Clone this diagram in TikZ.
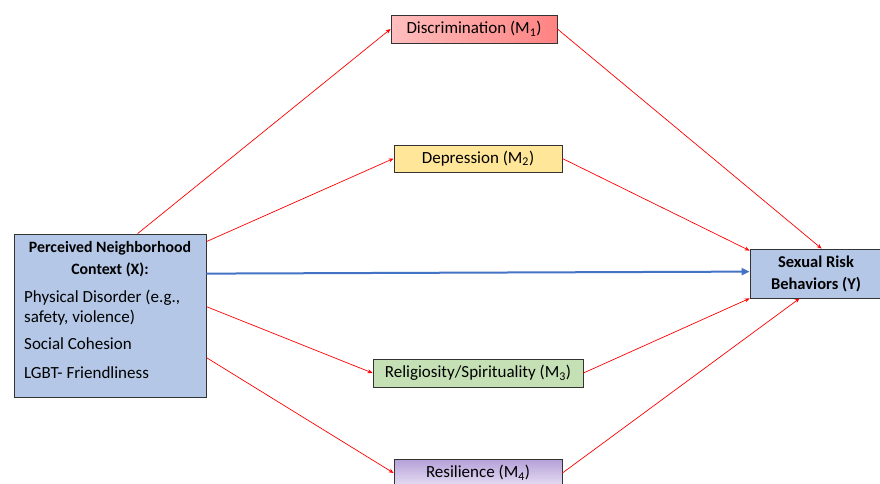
\documentclass[tikz,border=0pt]{standalone}
\usepackage{fontspec}
\setmainfont{Carlito}
\usetikzlibrary{arrows.meta}
\definecolor{boxblue}{RGB}{180,199,231}
\definecolor{m2fill}{RGB}{255,230,153}
\definecolor{m3fill}{RGB}{197,224,180}
\definecolor{arrowblue}{RGB}{68,114,196}
\definecolor{m1light}{RGB}{255,190,190}
\definecolor{m1dark}{RGB}{255,130,130}
\definecolor{m4dark}{RGB}{180,160,216}
\definecolor{m4light}{RGB}{232,224,244}
\newcommand{\subidx}[1]{\textsubscript{#1}}
\tikzset{
  mbox/.style={draw=black!80, line width=0.8pt, inner sep=0pt, font=\fontsize{17}{20}\selectfont},
  redarrow/.style={draw=red, line width=0.7pt, -{Stealth[length=5pt,width=4pt]}},
  bluearrow/.style={draw=arrowblue, line width=2pt, -{Triangle[length=8pt,width=7pt]}},
  xtext/.style={font=\fontsize{17}{22}\selectfont, inner sep=0pt},
}
\begin{document}
\begin{tikzpicture}[x=1pt,y=-1pt]
\useasboundingbox (0,0) rectangle (880,483);
\clip (0,0) rectangle (880,483);
\fill[white] (0,0) rectangle (880,483);

\node[mbox, minimum width=166pt, minimum height=28pt, left color=m1light, right color=m1dark] (m1) at (474,29) {Discrimination (M\subidx{1})};
\node[mbox, minimum width=168pt, minimum height=27pt, fill=m2fill] (m2) at (478,158.5) {Depression (M\subidx{2})};
\node[mbox, minimum width=210pt, minimum height=28pt, fill=m3fill] (m3) at (478,373) {Religiosity/Spirituality (M\subidx{3})};
\node[mbox, minimum width=168pt, minimum height=28pt, top color=m4dark, bottom color=m4light] (m4) at (478,473) {Resilience (M\subidx{4})};

\node[draw=black!80, line width=0.8pt, fill=boxblue, minimum width=192pt, minimum height=163pt] (x) at (110,315.5) {};
\node[inner sep=0pt, align=center, font=\fontsize{15.8}{22}\selectfont\bfseries] (xt) at (110,259) {Perceived Neighborhood\\Context (X):};
\node[xtext, anchor=west] (x1) at (24,298) {Physical Disorder (e.g.,};
\node[xtext, anchor=west] (x2) at (24,318) {safety, violence)};
\node[xtext, anchor=west] (x3) at (24,344) {Social Cohesion};
\node[xtext, anchor=west] (x4) at (24,373) {LGBT- Friendliness};

\node[draw=black!80, line width=0.8pt, fill=boxblue, minimum width=132pt, minimum height=49pt, align=center, font=\fontsize{16.5}{22}\selectfont\bfseries] (y) at (816,273.5) {Sexual Risk\\Behaviors (Y)};

\draw[redarrow] ([xshift=124pt]x.north west) -- (m1.west);
\draw[redarrow] ([yshift=-8pt]x.north east) -- (m2.west);
\draw[redarrow] ([yshift=-73pt]x.north east) -- (m3.west);
\draw[redarrow] ([yshift=-124pt]x.north east) -- (m4.west);

\draw[redarrow] (m1.east) -- ([xshift=72pt]y.north west);
\draw[redarrow] (m2.east) -- ([yshift=-2pt]y.north west);
\draw[redarrow] (m3.east) -- (y.south west);
\draw[redarrow] (m4.east) -- ([xshift=50pt]y.south west);

\draw[bluearrow] ([yshift=-40pt]x.north east) -- ([yshift=-23pt]y.north west);
\end{tikzpicture}
\end{document}
